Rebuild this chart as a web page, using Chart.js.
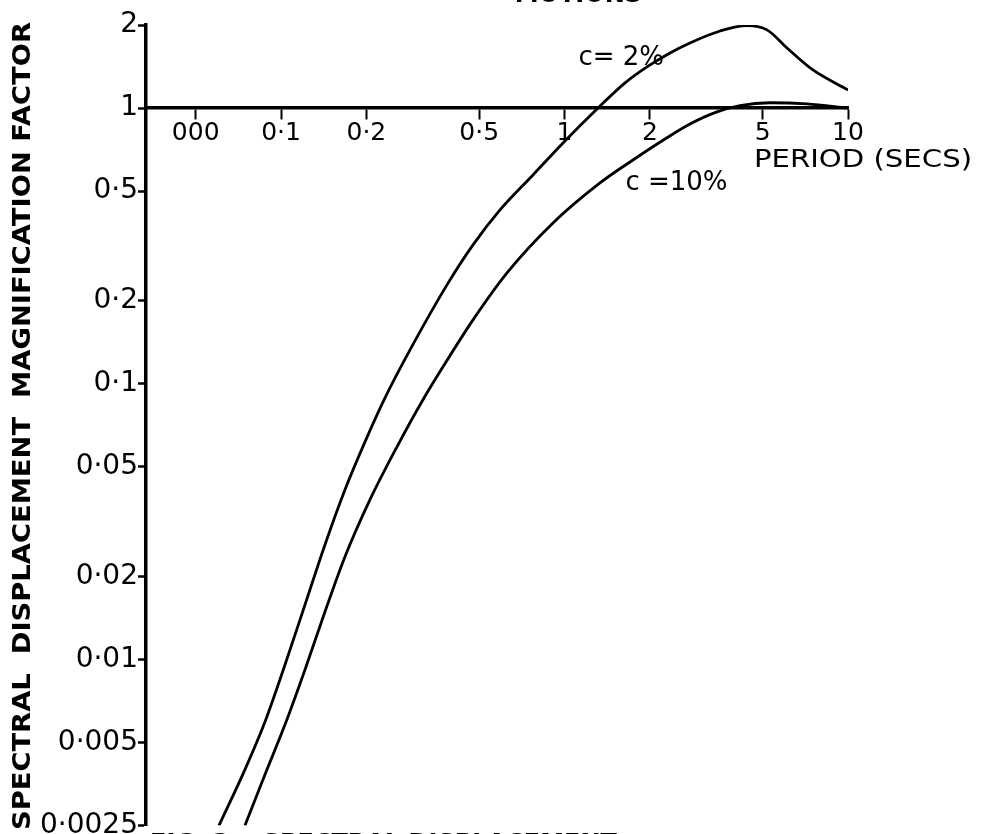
<!DOCTYPE html>
<html>
<head>
<meta charset="utf-8">
<script src="https://cdn.jsdelivr.net/npm/chart.js@4.4.0/dist/chart.umd.min.js"></script>
<style>
  html, body { margin: 0; padding: 0; background: #fff; }
  #wrap { width: 981px; height: 834px; }
</style>
</head>
<body>
<div id="wrap"><canvas id="spectrumChart" width="981" height="834"></canvas></div>
<script>
// Spectral displacement magnification factor vs period
const periods2 = [0.0604, 0.0746, 0.0878, 0.1033, 0.1215, 0.1429, 0.1681, 0.1978, 0.2327, 0.2851, 0.385, 0.4756, 0.5922, 0.7742, 0.988, 1.313, 1.635, 1.954, 2.356, 2.771, 3.536, 4.403, 5.18, 6.094, 7.524, 10.0];
const factor2 = [0.0025, 0.00399, 0.00595, 0.00958, 0.0158, 0.0261, 0.0413, 0.0616, 0.0889, 0.1327, 0.2284, 0.3189, 0.4271, 0.572, 0.747, 1.0, 1.233, 1.409, 1.583, 1.721, 1.902, 1.99, 1.92, 1.651, 1.374, 1.163];

const periods10 = [0.0746, 0.0878, 0.1033, 0.1215, 0.1429, 0.1681, 0.206, 0.2565, 0.3168, 0.3727, 0.4756, 0.6268, 0.9108, 1.334, 1.744, 2.262, 2.771, 3.451, 4.159, 5.307, 7.169, 10.0];
const factor10 = [0.0025, 0.00383, 0.00581, 0.00919, 0.0149, 0.0236, 0.038, 0.0591, 0.0875, 0.1152, 0.1705, 0.2524, 0.383, 0.535, 0.648, 0.772, 0.875, 0.968, 1.02, 1.045, 1.035, 1.0];

const xTickValues = [0.05, 0.1, 0.2, 0.5, 1, 2, 5, 10];
const xTickLabels = ['000', '0·1', '0·2', '0·5', '1', '2', '5', '10'];
const yTickValues = [0.0025, 0.005, 0.01, 0.02, 0.05, 0.1, 0.2, 0.5, 1, 2];
const yTickLabels = ['0·0025', '0·005', '0·01', '0·02', '0·05', '0·1', '0·2', '0·5', '1', '2'];

const FONT = '"DejaVu Sans", "Noto Sans", sans-serif';

function toPoints(xs, ys) {
    return xs.map((x, i) => ({ x: x, y: ys[i] }));
}

// fits a string into a given width by squeezing it horizontally
function fitText(ctx, text, x, y, width) {
    const w = ctx.measureText(text).width;
    ctx.save();
    ctx.translate(x, y);
    ctx.scale(width / w, 1);
    ctx.fillText(text, 0, 0);
    ctx.restore();
}

// Titles and curve labels
const figureText = {
    id: 'figureText',
    afterDraw(chart) {
        const ctx = chart.ctx;
        const xs = chart.scales.x;
        const ys = chart.scales.y;
        ctx.save();
        ctx.fillStyle = '#000';
        ctx.textBaseline = 'alphabetic';
        ctx.textAlign = 'left';

        // vertical axis title
        ctx.save();
        ctx.translate(30, 830);
        ctx.rotate(-Math.PI / 2);
        ctx.font = 'bold 25px ' + FONT;
        fitText(ctx, 'SPECTRAL  DISPLACEMENT  MAGNIFICATION FACTOR', 0, 0, 808);
        ctx.restore();

        // horizontal axis title
        ctx.font = '25px ' + FONT;
        fitText(ctx, 'PERIOD (SECS)', chart.chartArea.right - 94, ys.getPixelForValue(1) + 59, 218);

        // curve labels
        ctx.font = '26px ' + FONT;
        ctx.fillText('c= 2%', xs.getPixelForValue(1.12), ys.getPixelForValue(1.43));
        ctx.fillText('c =10%', xs.getPixelForValue(1.64), ys.getPixelForValue(0.505));

        // cut-off caption lines at top and bottom of the scan
        ctx.font = 'bold 24px ' + FONT;
        ctx.textAlign = 'right';
        ctx.fillText('MOTIONS', 642, 2);
        ctx.textAlign = 'left';
        ctx.fillText('FIG. 3    SPECTRAL DISPLACEMENT', 150, 851);
        ctx.restore();
    }
};

const ctx = document.getElementById('spectrumChart').getContext('2d');
const spectrumChart = new Chart(ctx, {
    type: 'line',
    data: {
        datasets: [{
            label: 'c = 2%',
            data: toPoints(periods2, factor2),
            borderColor: '#000',
            borderWidth: 2.8,
            pointRadius: 0,
            cubicInterpolationMode: 'monotone',
            fill: false
        }, {
            label: 'c = 10%',
            data: toPoints(periods10, factor10),
            borderColor: '#000',
            borderWidth: 2.8,
            pointRadius: 0,
            cubicInterpolationMode: 'monotone',
            fill: false
        }]
    },
    options: {
        responsive: false,
        animation: false,
        layout: {
            padding: { left: 0, top: 25, right: 133, bottom: 8 }
        },
        plugins: {
            legend: { display: false },
            tooltip: { enabled: false }
        },
        scales: {
            x: {
                type: 'logarithmic',
                position: { y: 1 },
                min: 0.0334,
                max: 10,
                afterBuildTicks: (scale) => {
                    scale.ticks = xTickValues.map(v => ({ value: v }));
                },
                ticks: {
                    autoSkip: false,
                    maxRotation: 0,
                    padding: 0,
                    color: '#000',
                    font: { family: FONT, size: 25 },
                    callback: (value) => xTickLabels[xTickValues.indexOf(value)]
                },
                grid: {
                    drawOnChartArea: false,
                    tickLength: 10,
                    tickWidth: 2,
                    tickColor: '#000'
                },
                border: { color: '#000', width: 3.5 }
            },
            y: {
                type: 'logarithmic',
                position: 'left',
                min: 0.0025,
                max: 2,
                afterFit: (scale) => { scale.width = 146; },
                afterBuildTicks: (scale) => {
                    scale.ticks = yTickValues.map(v => ({ value: v }));
                },
                ticks: {
                    autoSkip: false,
                    padding: 0,
                    color: '#000',
                    font: { family: FONT, size: 28, lineHeight: 0.6 },
                    callback: (value) => yTickLabels[yTickValues.indexOf(value)]
                },
                grid: {
                    drawOnChartArea: false,
                    tickLength: 8,
                    tickWidth: 2.5,
                    tickColor: '#000'
                },
                border: { color: '#000', width: 3.5 }
            }
        }
    },
    plugins: [figureText]
});
</script>
</body>
</html>
